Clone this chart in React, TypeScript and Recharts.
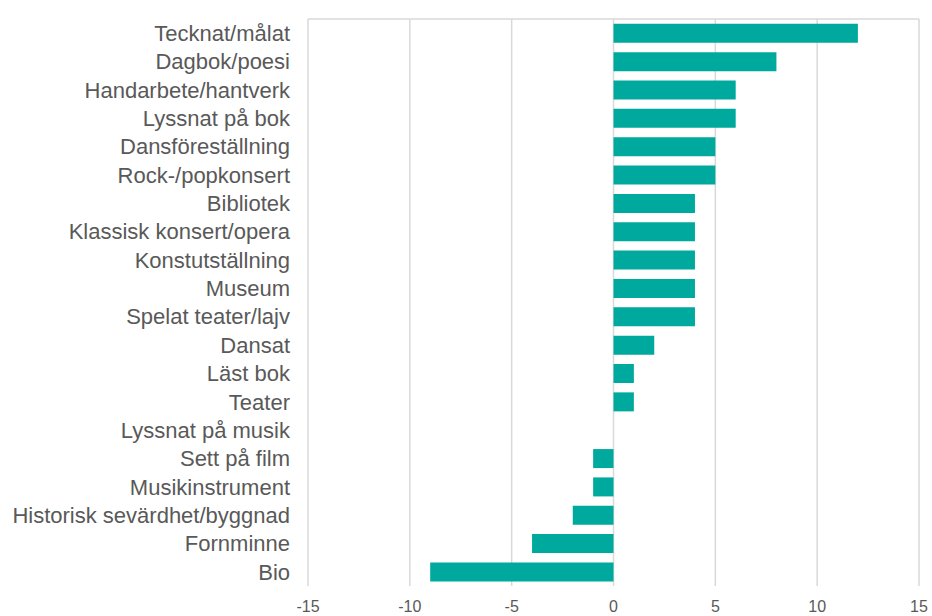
import { BarChart, Bar, XAxis, YAxis, CartesianGrid } from 'recharts';

const categories = [
  'Tecknat/målat',
  'Dagbok/poesi',
  'Handarbete/hantverk',
  'Lyssnat på bok',
  'Dansföreställning',
  'Rock-/popkonsert',
  'Bibliotek ',
  'Klassisk konsert/opera',
  'Konstutställning',
  'Museum',
  'Spelat teater/lajv',
  'Dansat',
  'Läst bok',
  'Teater',
  'Lyssnat på musik',
  'Sett på film',
  'Musikinstrument',
  'Historisk sevärdhet/byggnad',
  'Fornminne',
  'Bio',
];

const values = [12, 8, 6, 6, 5, 5, 4, 4, 4, 4, 4, 2, 1, 1, 0, -1, -1, -2, -4, -9];

const xTicks = [-15, -10, -5, 0, 5, 10, 15];

const data = categories.map((name, i) => ({ name, value: values[i] }));

const gridColor = '#d9d9d9';
const textColor = '#595959';
const font = '"Liberation Sans", Arial, sans-serif';

export default function App() {
  return (
    <div style={{ position: 'absolute', left: 0, top: 0, width: 932, height: 616, background: '#fff' }}>
      <BarChart
        width={932}
        height={616}
        data={data}
        layout="vertical"
        margin={{ top: 14, right: 13, bottom: 0, left: 0 }}
        barCategoryGap="17%"
      >
        <CartesianGrid horizontal={false} stroke={gridColor} strokeWidth={1.5} />
        <XAxis
          type="number"
          domain={[-15, 15]}
          ticks={xTicks}
          height={30}
          axisLine={false}
          tickLine={false}
          tickMargin={9}
          tick={{ fill: textColor, fontSize: 16, fontFamily: font }}
        />
        <XAxis
          xAxisId="top"
          orientation="top"
          type="number"
          domain={[-15, 15]}
          ticks={xTicks}
          height={5}
          axisLine={{ stroke: gridColor, strokeWidth: 1.5 }}
          tickLine={{ stroke: gridColor, strokeWidth: 1.5 }}
          tickSize={5}
          tickFormatter={() => ''}
        />
        <YAxis
          type="category"
          dataKey="name"
          width={308}
          axisLine={false}
          tickLine={false}
          tickMargin={12}
          interval={0}
          tick={{ fill: textColor, fontSize: 22, fontFamily: font }}
        />
        <Bar dataKey="value" fill="#00a99d" isAnimationActive={false} />
      </BarChart>
    </div>
  );
}
